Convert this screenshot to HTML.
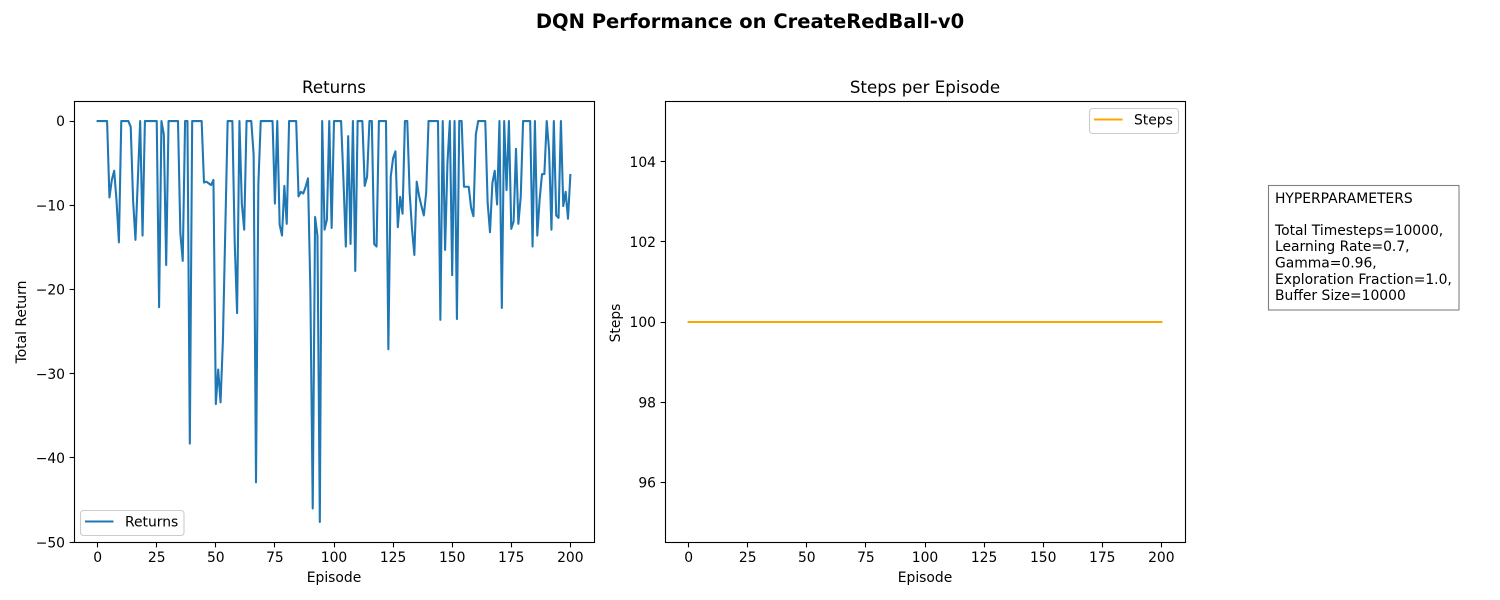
<!DOCTYPE html>
<html>
<head>
<meta charset="utf-8">
<title>DQN Performance on CreateRedBall-v0</title>
<style>
html,body{margin:0;padding:0;background:#fff;width:1500px;height:600px;overflow:hidden}
svg{display:block}
text{font-family:"DejaVu Sans",sans-serif;fill:#000}
</style>
</head>
<body>
<svg id="figure" xmlns="http://www.w3.org/2000/svg" width="1500" height="600" viewBox="0 0 1500 600">
<text x="750" y="28" text-anchor="middle" font-size="19.5" font-weight="bold">DQN Performance on CreateRedBall-v0</text>
<g id="left"></g>
<g id="right"></g>
<g>
<rect x="1268.5" y="185.5" width="190.5" height="124.5" fill="#fff" stroke="#808080" stroke-width="1.1"/>
<text x="1275" y="203" font-size="13.89">HYPERPARAMETERS</text>
<text x="1275" y="235" font-size="13.89">Total Timesteps=10000,</text>
<text x="1275" y="251" font-size="13.89">Learning Rate=0.7,</text>
<text x="1275" y="267.5" font-size="13.89">Gamma=0.96,</text>
<text x="1275" y="284" font-size="13.89">Exploration Fraction=1.0,</text>
<text x="1275" y="300" font-size="13.89">Buffer Size=10000</text>
</g>
</svg>
<script>
const xTicks = [0, 25, 50, 75, 100, 125, 150, 175, 200];
const returnTicks = [0, -10, -20, -30, -40, -50];
const stepTicks = [96, 98, 100, 102, 104];
const returnsValues = [
0,0,0,0,0,-9.07,-7,-5.9,-9.5,-14.4,
0,0,0,0,-0.7,-9.4,-14.1,-7,0,-13.6,
0,0,0,0,0,0,-22.1,0,-1.6,-17.1,
0,0,0,0,0,-13.3,-16.6,0,0,-38.3,
0,0,0,0,0,-7.3,-7.2,-7.4,-7.6,-7,
-33.6,-29.5,-33.4,-26,-13,0,0,0,-14.5,-22.8,
0,-9.8,-12.9,0,0,0,-4,-42.9,-7.5,0,
0,0,0,0,0,-9.8,0,-12.3,-13.6,-7.7,
-12.2,0,0,0,0,-8.95,-8.4,-8.6,-7.8,-6.8,
-20,-46,-11.4,-13.6,-47.6,0,-12.9,-11.7,0,-12.7,
0,0,0,0,-7,-14.9,-1.8,-14.6,0,-17.8,
0,0,0,-7.7,-6.6,0,0,-14.6,-14.9,0,
0,0,0,-27.1,-6.6,-4.4,-3.6,-12.6,-9,-11,
0,0,-8.5,-12.8,-15.9,-7.2,-8.9,-10.1,-11.2,-8.5,
0,0,0,0,0,-23.6,0,-15.3,-5,0,
-18.3,0,-23.5,0,0,-7.8,-7.8,-7.8,-10.3,-11.3,
-1.6,0,0,0,0,-9.7,-13.2,-7.4,-5.9,-9.9,
0,-22.2,0,-8.2,0,-12.8,-11.9,-3.3,-12.2,-9,
0,0,0,0,-14.9,0,-13.6,-9.3,-6.3,-6.3,
0,-3.5,-12.9,0,-11.2,-11.5,0,-10.1,-8.4,-11.6,
-6.4];
const stepsValues = [
100,100,100,100,100,100,100,100,100,100,100,100,100,100,100,100,100,100,100,100,
100,100,100,100,100,100,100,100,100,100,100,100,100,100,100,100,100,100,100,100,
100,100,100,100,100,100,100,100,100,100,100,100,100,100,100,100,100,100,100,100,
100,100,100,100,100,100,100,100,100,100,100,100,100,100,100,100,100,100,100,100,
100,100,100,100,100,100,100,100,100,100,100,100,100,100,100,100,100,100,100,100,
100,100,100,100,100,100,100,100,100,100,100,100,100,100,100,100,100,100,100,100,
100,100,100,100,100,100,100,100,100,100,100,100,100,100,100,100,100,100,100,100,
100,100,100,100,100,100,100,100,100,100,100,100,100,100,100,100,100,100,100,100,
100,100,100,100,100,100,100,100,100,100,100,100,100,100,100,100,100,100,100,100,
100,100,100,100,100,100,100,100,100,100,100,100,100,100,100,100,100,100,100,100,
100];

const NS = 'http://www.w3.org/2000/svg';
function mk(parent, tag, attrs, txt) {
  const el = document.createElementNS(NS, tag);
  for (const k in attrs) el.setAttribute(k, attrs[k]);
  if (txt !== undefined) el.textContent = txt;
  parent.appendChild(el);
  return el;
}
function label(v) { return String(v).replace('-', '\u2212'); }

function drawChart(o) {
  const g = document.getElementById(o.id);
  const L = o.left, R = o.left + 520, T = 101.5, B = 542.5;
  const xDom = [-10, 210];
  const lo = Math.min.apply(null, o.values), hi = Math.max.apply(null, o.values);
  const pad = (hi - lo) * 0.05;
  const yDom = o.yDomain || [lo - pad, hi + pad];
  const sx = v => L - 0.5 + (v - xDom[0]) / (xDom[1] - xDom[0]) * (R - L);
  const sy = v => B - o.yShift - (v - yDom[0]) / (yDom[1] - yDom[0]) * (B - T);

  const pts = o.values.map((v, i) => sx(i).toFixed(2) + ',' + sy(v).toFixed(2)).join(' ');
  const line = mk(g, 'polyline', {points: pts, fill: 'none', stroke: o.color, 'stroke-width': 2.08, 'stroke-linejoin': 'round', 'stroke-linecap': 'square'});
  
  

  const frame = mk(g, 'rect', {x: L, y: T, width: R - L, height: B - T, fill: 'none', stroke: '#000', 'stroke-width': 1.1});
  
  

  xTicks.forEach(t => {
    const px = Math.floor(sx(t)) + 0.5;
    const tick = mk(g, 'line', {x1: px, x2: px, y1: B, y2: B + 4.86, stroke: '#000', 'stroke-width': 1.1});
    
    
    const tl = mk(g, 'text', {x: sx(t), y: 562, 'text-anchor': 'middle', 'font-size': 13.89}, label(t));
    
    
  });
  o.yTicks.forEach(t => {
    const py = Math.floor(sy(t)) + 0.5;
    const tick = mk(g, 'line', {x1: L - 4.86, x2: L, y1: py, y2: py, stroke: '#000', 'stroke-width': 1.1});
    
    
    const tl = mk(g, 'text', {x: L - 9.5, y: sy(t) + 5.2, 'text-anchor': 'end', 'font-size': 13.89}, label(t));
    
    
  });

  const title = mk(g, 'text', {x: L + 259.5, y: 93, 'text-anchor': 'middle', 'font-size': 16.67}, o.title);
  
  
  const xl = mk(g, 'text', {x: L + 259.5, y: 582, 'text-anchor': 'middle', 'font-size': 13.89}, 'Episode');
  
  
  const yl = mk(g, 'text', {transform: 'translate(' + o.yLabelX + ',' + o.yLabelY + ') rotate(-90)', 'text-anchor': 'middle', 'font-size': 13.89}, o.yLabel);
  
  

  const lg = mk(g, 'g', {});
  
  
  const box = mk(lg, 'rect', {x: o.lx, y: o.ly, width: o.lw, height: 25, rx: 3, ry: 3, fill: '#fff', 'fill-opacity': 0.8, stroke: '#ccc', 'stroke-width': 1.1});
  
  
  const sw = mk(lg, 'line', {x1: o.lx + 4.5, x2: o.lx + 33, y1: o.ly + 11, y2: o.ly + 11, stroke: o.color, 'stroke-width': 2.08});
  
  
  const lt = mk(lg, 'text', {x: o.lx + 44.5, y: o.ly + 16, 'font-size': 13.89}, o.title === 'Returns' ? 'Returns' : 'Steps');
  
  
}

drawChart({id: 'left', key: 'returns', left: 74.5, yShift: 0.5, values: returnsValues, color: '#1f77b4', yTicks: returnTicks,
  title: 'Returns', yLabel: 'Total Return', yLabelX: 26, yLabelY: 322, lx: 80.5, ly: 510.5, lw: 103.5});
drawChart({id: 'right', key: 'steps', left: 665.5, yShift: 0, values: stepsValues, color: '#ffa500', yTicks: stepTicks, yDomain: [94.5, 105.5],
  title: 'Steps per Episode', yLabel: 'Steps', yLabelX: 620, yLabelY: 323, lx: 1089.5, ly: 108.5, lw: 89});
</script>
</body>
</html>
